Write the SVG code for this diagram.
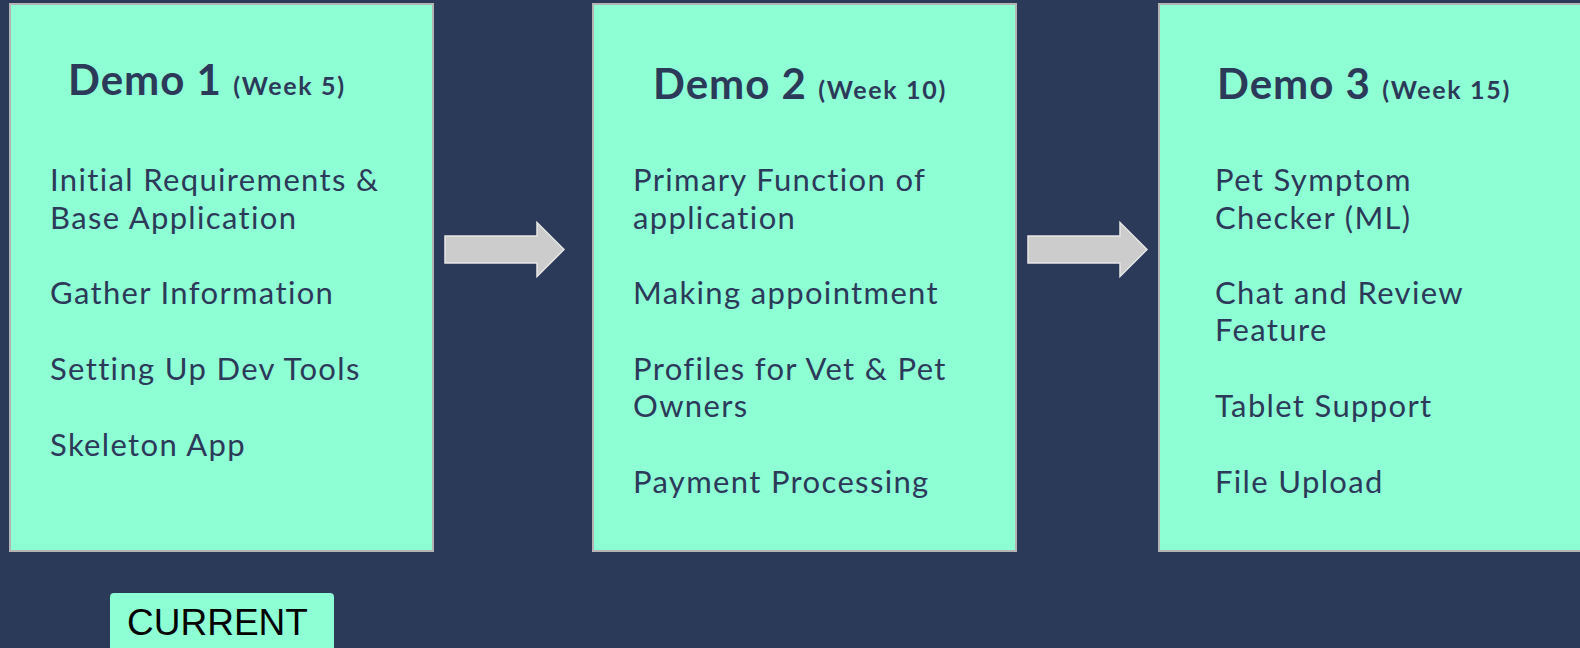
<svg xmlns="http://www.w3.org/2000/svg" width="1580" height="648" viewBox="0 0 1580 648">
  <defs>
    <style>
      .box { fill: #8effd4; stroke: #b4b4b4; stroke-width: 2; }
      .title { font-family: Lato, "Open Sans", sans-serif; font-weight: 700; font-size: 42px; letter-spacing: 1px; fill: #2c3a59; }
      .week { font-size: 25px; letter-spacing: 1.7px; }
      .item { font-family: Lato, "Open Sans", sans-serif; font-size: 31px; letter-spacing: 1.35px; fill: #2c3a59; }
      .arrow { fill: #cccccc; stroke: #e6e6e6; stroke-width: 1.5; }
      .tag { fill: #8effd4; }
      .tagtext { font-family: "Liberation Sans", Arial, sans-serif; font-size: 37px; fill: #000000; }
    </style>
  </defs>
  <rect x="0" y="0" width="1580" height="648" fill="#2c3a59"/>

  <g id="demo1">
    <rect class="box" x="10" y="4" width="423" height="547"/>
    <text class="title" x="68" y="95">Demo 1 <tspan class="week">(Week 5)</tspan></text>
    <text class="item" x="50" y="191">Initial Requirements &amp;</text>
    <text class="item" x="50" y="229">Base Application</text>
    <text class="item" x="50" y="304">Gather Information</text>
    <text class="item" x="50" y="380">Setting Up Dev Tools</text>
    <text class="item" x="50" y="456">Skeleton App</text>
  </g>

  <g id="demo2">
    <rect class="box" x="593" y="4" width="423" height="547"/>
    <text class="title" x="653" y="99">Demo 2 <tspan class="week">(Week 10)</tspan></text>
    <text class="item" x="633" y="191">Primary Function of</text>
    <text class="item" x="633" y="229">application</text>
    <text class="item" x="633" y="304">Making appointment</text>
    <text class="item" x="633" y="380">Profiles for Vet &amp; Pet</text>
    <text class="item" x="633" y="417">Owners</text>
    <text class="item" x="633" y="493">Payment Processing</text>
  </g>

  <g id="demo3">
    <rect class="box" x="1159" y="4" width="430" height="547"/>
    <text class="title" x="1217" y="99">Demo 3 <tspan class="week">(Week 15)</tspan></text>
    <text class="item" x="1215" y="191">Pet Symptom</text>
    <text class="item" x="1215" y="229">Checker (ML)</text>
    <text class="item" x="1215" y="304">Chat and Review</text>
    <text class="item" x="1215" y="341">Feature</text>
    <text class="item" x="1215" y="417">Tablet Support</text>
    <text class="item" x="1215" y="493">File Upload</text>
  </g>

  <g id="connectors">
    <path class="arrow" d="M445,236 L537,236 L537,222.5 L564,249.5 L537,276.5 L537,263 L445,263 Z"/>
    <path class="arrow" d="M1028,236 L1120,236 L1120,222.5 L1147,249.5 L1120,276.5 L1120,263 L1028,263 Z"/>
  </g>

  <g id="current">
    <rect class="tag" x="110" y="593" width="224" height="70" rx="4"/>
    <text class="tagtext" x="127" y="635">CURRENT</text>
  </g>
</svg>
